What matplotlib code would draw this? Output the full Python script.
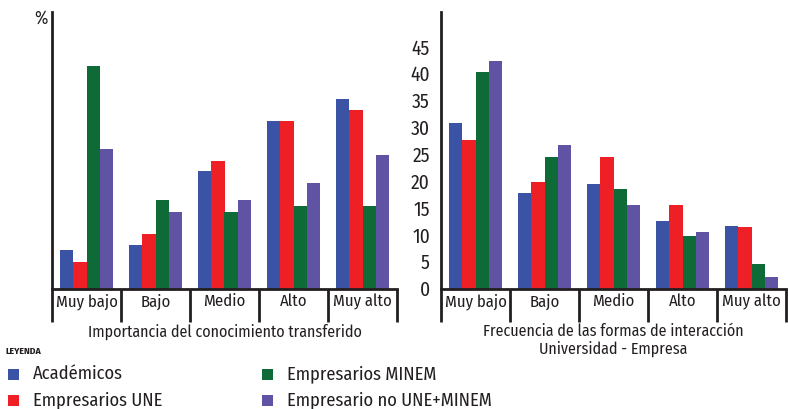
import matplotlib
matplotlib.use('Agg')
import numpy as np
import matplotlib.pyplot as plt
from matplotlib.patches import Rectangle


# data
categories = ['Muy bajo', 'Bajo', 'Medio', 'Alto', 'Muy alto']
series = ['Académicos', 'Empresarios UNE', 'Empresarios MINEM', 'Empresario no UNE+MINEM']

importancia = {
  'Académicos': [7.2, 8.1, 21.8, 31.2, 35.3],
  'Empresarios UNE': [4.9, 10.2, 23.7, 31.2, 33.3],
  'Empresarios MINEM': [41.5, 16.5, 14.3, 15.4, 15.4],
  'Empresario no UNE+MINEM': [26.0, 14.3, 16.5, 19.6, 24.8],
}
frecuencia = {
  'Académicos': [30.8, 17.7, 19.4, 12.6, 11.7],
  'Empresarios UNE': [27.6, 19.8, 24.4, 15.6, 11.5],
  'Empresarios MINEM': [40.3, 24.4, 18.6, 9.8, 4.6],
  'Empresario no UNE+MINEM': [42.3, 26.7, 15.6, 10.5, 2.1],
}
right_ticks = [0, 5, 10, 15, 20, 25, 30, 35, 40, 45]

COLORS = ['#3a53a4', '#ee1f25', '#0e6b38', '#6153a3']
INK = '#231f20'

plt.rcParams['font.family'] = ['Fira Sans Condensed', 'DejaVu Sans']
plt.rcParams['text.color'] = INK


def draw_panel(ax, data, xlabel):
  x = np.arange(len(categories))
  w = 0.193
  for i, name in enumerate(series):
    ax.bar(x + (i - 1.5) * w, data[name], width=w, color=COLORS[i], linewidth=0)
  ax.set_xlim(-0.5, len(categories) - 0.5)
  ax.set_ylim(0, 51.5)
  for side in ['top', 'right']:
    ax.spines[side].set_visible(False)
  for side in ['left', 'bottom']:
    ax.spines[side].set_linewidth(2)
    ax.spines[side].set_color(INK)
  ax.set_xticks(x, categories, fontsize=12, color=INK)
  ax.tick_params(axis='x', length=0, pad=3.5)
  # separators below the category axis
  trans = ax.get_xaxis_transform()
  for b in np.arange(-0.5, len(categories), 1.0):
    ax.plot([b, b], [0, -0.122], transform=trans, color=INK, lw=2, clip_on=False,
            solid_capstyle='butt')
  ax.set_xlabel(xlabel, fontsize=11.5, color=INK, labelpad=10, linespacing=1.05)


fig = plt.figure(figsize=(7.88, 4.09), dpi=100)
ax1 = fig.add_axes([52 / 788, 1 - 288.5 / 409, 345 / 788, 276.5 / 409])
ax2 = fig.add_axes([441 / 788, 1 - 288.5 / 409, 345 / 788, 276.5 / 409])

draw_panel(ax1, importancia, 'Importancia del conocimiento transferido')
ax1.set_yticks([])
ax1.text(-0.012, 0.975, '%', transform=ax1.transAxes, ha='right', va='center',
         fontsize=13, color=INK)

draw_panel(ax2, frecuencia, 'Frecuencia de las formas de interacción\nUniversidad - Empresa')
ax2.set_yticks(right_ticks)
ax2.tick_params(axis='y', length=0, pad=8, labelsize=14, labelcolor=INK)

# legend
fig.text(5 / 788, 1 - 351 / 409, 'LEYENDA', fontsize=7, fontweight='bold', va='center', color=INK)
pos = [(8, 374), (8, 400), (262, 374), (262, 400)]
for (px, py), name, c in zip(pos, series, COLORS):
  fig.patches.append(Rectangle((px / 788, 1 - (py + 5.5) / 409), 11 / 788, 11 / 409,
                               transform=fig.transFigure, color=c, linewidth=0))
  fig.text((px + 25) / 788, 1 - py / 409, name, fontsize=13.3, va='center', color=INK)

fig.savefig('out.png', dpi=100)
